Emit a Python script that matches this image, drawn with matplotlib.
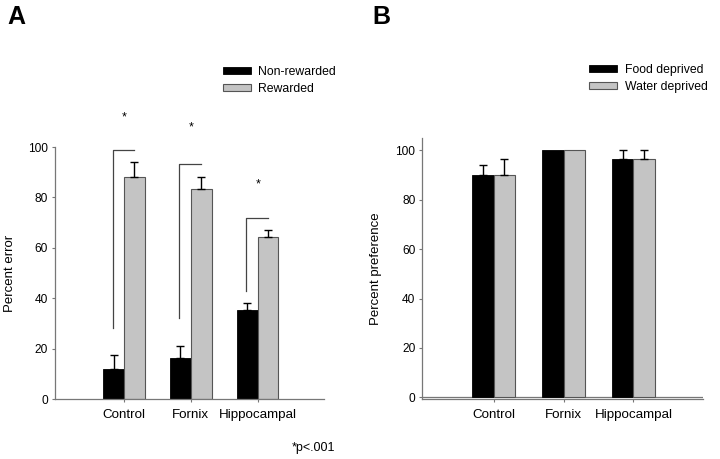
import numpy as np
import matplotlib
matplotlib.use("Agg")
import matplotlib.pyplot as plt

plt.rcParams['font.family'] = ['Liberation Sans', 'DejaVu Sans']

groups = ["Control", "Fornix", "Hippocampal"]

# panel A: percent error
nonrew = [11.8, 16.4, 35.4]
nonrew_err = [5.5, 4.8, 2.8]
rew = [88.2, 83.3, 64.2]
rew_err = [5.7, 4.9, 2.9]
# significance brackets (bottom, top) and star heights
br_low = [28.3, 32.0, 43.0]
br_top = [98.9, 93.3, 71.8]
star_y = [111.8, 107.8, 85.2]

# panel B: percent preference
food = [90.0, 100.0, 96.5]
food_err = [4.2, 0.0, 3.5]
water = [90.0, 100.0, 96.5]
water_err = [6.6, 0.0, 3.5]

BLACK = "#000000"
GRAY = "#c4c4c4"
EDGE = "#555555"
SPINE = "#777777"

fig = plt.figure(figsize=(7.2, 4.59), dpi=100)
axA = fig.add_axes([55/720, 1-399/459, 269/720, 252/459])
axB = fig.add_axes([422.3/720, 1-399/459, 280.4/720, 260.7/459])

x = np.arange(len(groups))
w = 0.31


def style(ax, ylab):
    for s in ["top", "right"]:
        ax.spines[s].set_visible(False)
    for s in ["left", "bottom"]:
        ax.spines[s].set_color(SPINE)
        ax.spines[s].set_linewidth(0.9)
    ax.set_xticks(x)
    ax.set_xticklabels(groups, fontsize=9.6)
    ax.tick_params(axis="x", length=2.5, color=SPINE, pad=5)
    ax.tick_params(axis="y", length=2.5, color=SPINE, labelsize=8.6, pad=2.5)
    ax.set_yticks([0, 20, 40, 60, 80, 100])
    ax.set_ylabel(ylab, fontsize=9.5)


def legend(ax, handles, labels, xpix, ypix):
    ax.legend(handles, labels, loc="upper left", frameon=False,
              bbox_to_anchor=(xpix/720, 1-ypix/459), bbox_transform=fig.transFigure,
              borderpad=0, borderaxespad=0, fontsize=8.8, handlelength=2.3,
              handleheight=0.55, handletextpad=0.6, labelspacing=0.4)


# ---- A ----
b1 = axA.bar(x - w/2, nonrew, w, color=BLACK, edgecolor=BLACK, linewidth=0.6, zorder=2)
b2 = axA.bar(x + w/2, rew, w, color=GRAY, edgecolor=EDGE, linewidth=0.8, zorder=2)
axA.errorbar(x - w/2, nonrew, yerr=[np.zeros(3), nonrew_err], fmt="none",
             ecolor=BLACK, elinewidth=1.0, capsize=3, capthick=1.0, zorder=3)
axA.errorbar(x + w/2, rew, yerr=[np.zeros(3), rew_err], fmt="none",
             ecolor=BLACK, elinewidth=1.0, capsize=3, capthick=1.0, zorder=3)
for i in range(len(groups)):
    xl = x[i] - 0.17
    xr = x[i] + 0.155
    axA.plot([xl, xl, xr], [br_low[i], br_top[i], br_top[i]], color="#444444",
             lw=0.9, clip_on=False)
    axA.text(x[i], star_y[i], "*", ha="center", va="center", fontsize=9)
axA.set_xlim(-1.03, 2.99)
axA.set_ylim(0, 100)
style(axA, "Percent error")
axA.yaxis.set_label_coords(-0.145, 0.5)
legend(axA, [b1, b2], ["Non-rewarded", "Rewarded"], 223, 66)

# ---- B ----
c1 = axB.bar(x - w/2, food, w, color=BLACK, edgecolor=BLACK, linewidth=0.6, zorder=2)
c2 = axB.bar(x + w/2, water, w, color=GRAY, edgecolor=EDGE, linewidth=0.8, zorder=2)
for vals, errs, off in [(food, food_err, -w/2), (water, water_err, w/2)]:
    for i in range(len(groups)):
        if errs[i] > 0:
            axB.errorbar(x[i] + off, vals[i], yerr=[[0], [errs[i]]], fmt="none",
                         ecolor=BLACK, elinewidth=1.0, capsize=3, capthick=1.0, zorder=3)
axB.axhline(0, color=SPINE, lw=0.9, zorder=1)
axB.set_xlim(-1.02, 2.99)
axB.set_ylim(-0.7, 104.9)
style(axB, "Percent preference")
axB.yaxis.set_label_coords(-0.145, 0.5)
legend(axB, [c1, c2], ["Food deprived", "Water deprived"], 589.3, 64)

fig.text(7/720, 1-5/459, "A", ha="left", va="top", fontsize=18, fontweight="bold")
fig.text(372/720, 1-5/459, "B", ha="left", va="top", fontsize=18, fontweight="bold")
fig.text(335/720, 1-448/459, "*p<.001", ha="right", va="center", fontsize=9)

fig.savefig("out.png", dpi=100)
